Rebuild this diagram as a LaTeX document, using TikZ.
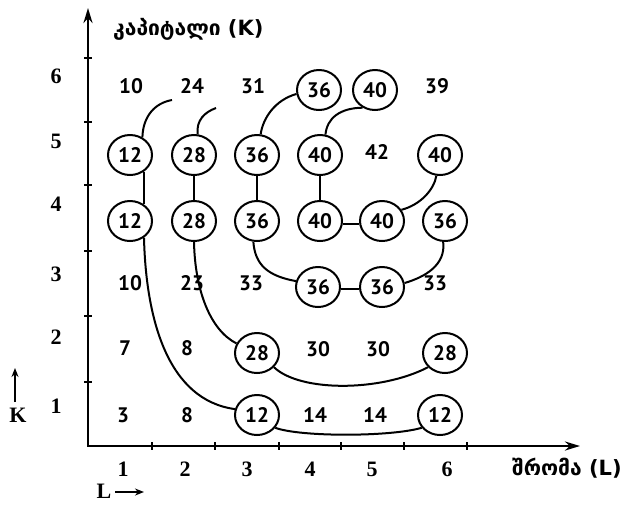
\documentclass[tikz,border=0pt]{standalone}
\usepackage{fontspec}
\setmainfont{Liberation Serif}
\newfontfamily\numfont{PT Sans}
\newfontfamily\geofont{DejaVu Sans}
\usetikzlibrary{arrows.meta,shapes.geometric}
\begin{document}
\begin{tikzpicture}[x=1pt,y=-1pt,
  cell/.style={font=\numfont\bfseries\fontsize{21}{21}\selectfont, inner sep=0pt},
  iso/.style={cell, draw, ellipse, line width=2pt, minimum width=44pt, minimum height=40pt},
  link/.style={line width=2pt},
  axis/.style={line width=2.6pt},
  tick/.style={line width=1.8pt},
  axlab/.style={font=\bfseries\fontsize{22}{22}\selectfont, inner sep=0pt},
  geo/.style={font=\geofont\bfseries\fontsize{21}{21}\selectfont, inner sep=0pt, anchor=west},
]
\useasboundingbox (0,0) rectangle (636,504);

% axes
\coordinate (O) at (88,446);
\coordinate (Ytop) at (88,8);
\coordinate (Xend) at (580,446);
\draw[axis, {Stealth[length=15pt,width=9pt]}-{Stealth[length=15pt,width=9pt]}] (Ytop) -- (O) -- (Xend);
\foreach \y in {58,122,185,251,316,382} \draw[tick] (84,\y) -- (92,\y);
\foreach \x in {152,215,279,341,404,467} \draw[tick] (\x,442) -- (\x,450);

% axis labels
\foreach \x/\t in {123/1,185/2,247/3,310/4,372/5,447/6} \node[axlab] (xl\t) at (\x,469) {\t};
\foreach \y/\t in {406/1,337/2,274/3,204/4,141/5,76/6} \node[axlab] (yl\t) at (56,\y) {\t};

\node[geo] (ktitle) at (113,29) {კაპიტალი (K)};
\node[geo] (ltitle) at (512,468) {შრომა (L)};

\node[axlab] (Klab) at (18,415) {K};
\coordinate (Ka) at (15,402);
\coordinate (Kb) at (15,368);
\draw[line width=1.8pt, -{Stealth[length=9pt,width=7pt]}] (Ka) -- (Kb);
\node[axlab] (Llab) at (104,491) {L};
\coordinate (La) at (115,492);
\coordinate (Lb) at (144,492);
\draw[line width=1.8pt, -{Stealth[length=9pt,width=7pt]}] (La) -- (Lb);

% row 6
\node[cell] (a61) at (131,86) {10};
\node[cell] (a62) at (192,86) {24};
\node[cell] (a63) at (253,86) {31};
\node[iso]  (a64) at (319,90) {36};
\node[iso]  (a65) at (375,90) {40};
\node[cell] (a66) at (437,86) {39};
% row 5
\node[iso]  (a51) at (130,155) {12};
\node[iso]  (a52) at (194,155) {28};
\node[iso]  (a53) at (257,155) {36};
\node[iso]  (a54) at (320,155) {40};
\node[cell] (a55) at (377,152) {42};
\node[iso]  (a56) at (440,155) {40};
% row 4
\node[iso]  (a41) at (130,221) {12};
\node[iso]  (a42) at (194,221) {28};
\node[iso]  (a43) at (257,221) {36};
\node[iso]  (a44) at (320,221) {40};
\node[iso]  (a45) at (382,221) {40};
\node[iso]  (a46) at (445,221) {36};
% row 3
\node[cell] (a31) at (130,283) {10};
\node[cell] (a32) at (192,283) {23};
\node[cell] (a33) at (251,283) {33};
\node[iso]  (a34) at (318,287) {36};
\node[iso]  (a35) at (382,287) {36};
\node[cell] (a36) at (435,283) {33};
% row 2
\node[cell] (a21) at (125,348) {7};
\node[cell] (a22) at (187,348) {8};
\node[iso]  (a23) at (257,353) {28};
\node[cell] (a24) at (318,349) {30};
\node[cell] (a25) at (378,349) {30};
\node[iso]  (a26) at (445,353) {28};
% row 1
\node[cell] (a11) at (123,415) {3};
\node[cell] (a12) at (187,415) {8};
\node[iso]  (a13) at (257,415) {12};
\node[cell] (a14) at (315,415) {14};
\node[cell] (a15) at (375,415) {14};
\node[iso]  (a16) at (440,415) {12};

% isoquant 12
\coordinate (e12) at (172,100);
\draw[link] (a51.55) .. controls (143,116) and (155,103) .. (e12);
\draw[link] (a51.-50) -- (a41.50);
\draw[link] (a41.-50) .. controls (146,320) and (168,400) .. (a13.165);
\draw[link] (a13.-35) .. controls (300,437) and (390,437) .. (a16.-145);

% isoquant 28
\coordinate (e28) at (216,108);
\draw[link] (a52.80) .. controls (196,120) and (205,112) .. (e28);
\draw[link] (a52.south) -- (a42.north);
\draw[link] (a42.south) .. controls (195,290) and (210,330) .. (a23.155);
\draw[link] (a23.-40) .. controls (300,392) and (380,392) .. (a26.-140);

% isoquant 36
\draw[link] (a53.80) .. controls (263,118) and (275,100) .. (a64.190);
\draw[link] (a53.south) -- (a43.north);
\draw[link] (a43.-100) .. controls (255,265) and (268,276) .. (a34.165);
\draw[link] (a34.-5) -- (a35.185);
\draw[link] (a35.10) .. controls (425,277) and (446,265) .. (a46.-95);

% isoquant 40
\draw[link] (a54.75) .. controls (327,118) and (340,108) .. (a65.-125);
\draw[link] (a54.south) -- (a44.north);
\draw[link] (a44.-8) -- (a45.188);
\draw[link] (a45.30) .. controls (420,205) and (434,190) .. (a56.-100);
\end{tikzpicture}
\end{document}
